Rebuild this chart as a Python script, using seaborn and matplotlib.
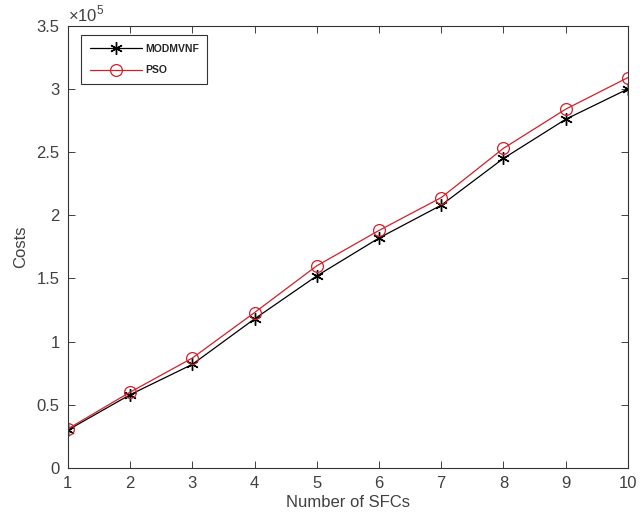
import matplotlib
matplotlib.use("Agg")
import matplotlib.pyplot as plt
import seaborn as sns
import pandas as pd
from matplotlib.ticker import FuncFormatter

sns.set_style("white")
plt.rcParams['font.family'] = ['Liberation Sans', 'DejaVu Sans']
plt.rcParams['mathtext.fontset'] = 'custom'
plt.rcParams['mathtext.rm'] = 'Liberation Sans'

sfcs = [1, 2, 3, 4, 5, 6, 7, 8, 9, 10]
modmvnf = [0.30e5, 0.58e5, 0.82e5, 1.18e5, 1.52e5, 1.82e5, 2.08e5, 2.45e5, 2.76e5, 3.00e5]
pso = [0.31e5, 0.60e5, 0.87e5, 1.23e5, 1.60e5, 1.88e5, 2.14e5, 2.53e5, 2.84e5, 3.09e5]

df = pd.DataFrame({"x": sfcs, "MODMVNF": modmvnf, "PSO": pso})

txt = "#404040"
fig = plt.figure(figsize=(6.4, 5.27), dpi=100)
ax = fig.add_axes([0.106, 0.112, 0.875, 0.839])

sns.lineplot(data=df, x="x", y="MODMVNF", ax=ax, color="black", marker=(6, 2, 0),
             markersize=9, linewidth=0.9, markeredgewidth=1.0,
             markeredgecolor="black", label="MODMVNF")
sns.lineplot(data=df, x="x", y="PSO", ax=ax, color="#d0202a", marker="o",
             markersize=8.5, markerfacecolor="none", markeredgecolor="#d0202a",
             linewidth=0.9, markeredgewidth=0.9, label="PSO")

ax.set_xlim(1, 10)
ax.set_ylim(0, 3.5e5)
ax.set_xticks(range(1, 11))
ax.set_yticks([i * 0.5e5 for i in range(8)])
ax.yaxis.set_major_formatter(FuncFormatter(lambda v, p: f"{v / 1e5:g}"))
ax.text(0.0, 1.003, r"$\times10^{5}$", transform=ax.transAxes, fontsize=12,
        color=txt, ha="left", va="bottom")

ax.set_xlabel("Number of SFCs", fontsize=12, color=txt, labelpad=3)
ax.set_ylabel("Costs", fontsize=12, color=txt, labelpad=6)

ax.tick_params(direction="in", length=5, width=0.7, colors=txt, pad=6,
               labelsize=12, top=True, right=True, bottom=True, left=True)
for s in ax.spines.values():
    s.set_color("#333333")
    s.set_linewidth(0.8)
    s.set_visible(True)

leg = ax.legend(loc="upper left", bbox_to_anchor=(0.015, 0.99), fancybox=False,
                edgecolor="#333333", framealpha=1, handlelength=5.0,
                prop={"weight": "bold", "size": 7.5}, borderpad=0.8,
                labelspacing=1.1, handletextpad=0.3)
leg.get_frame().set_linewidth(0.8)

fig.savefig("out.png", dpi=100)
